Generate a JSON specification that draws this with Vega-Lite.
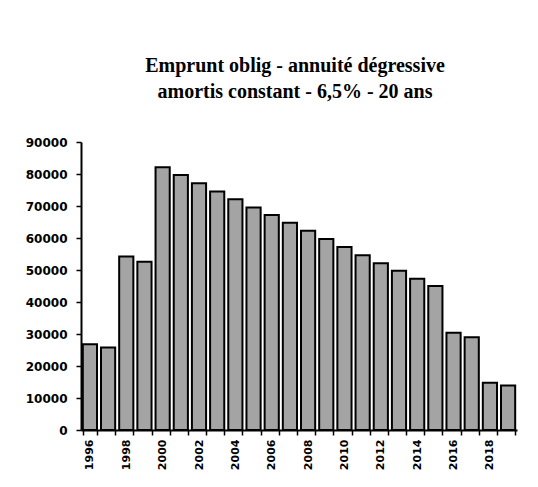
{
  "$schema": "https://vega.github.io/schema/vega-lite/v6.json",
  "width": 436,
  "height": 288,
  "autosize": {"type": "none"},
  "padding": {"left": 81, "top": 142, "right": 21, "bottom": 57},
  "background": "white",
  "title": {
    "text": ["Emprunt oblig - annuité dégressive", "amortis constant - 6,5% - 20 ans"],
    "font": "Liberation Serif",
    "fontSize": 20,
    "fontWeight": "bold",
    "color": "black",
    "lineHeight": 26,
    "anchor": "middle",
    "dx": -4,
    "offset": 34
  },
  "data": {
    "values": [
      {"annee": 1996, "montant": 26800},
      {"annee": 1997, "montant": 25800},
      {"annee": 1998, "montant": 54200},
      {"annee": 1999, "montant": 52600},
      {"annee": 2000, "montant": 82100},
      {"annee": 2001, "montant": 79700},
      {"annee": 2002, "montant": 77100},
      {"annee": 2003, "montant": 74500},
      {"annee": 2004, "montant": 72100},
      {"annee": 2005, "montant": 69500},
      {"annee": 2006, "montant": 67200},
      {"annee": 2007, "montant": 64800},
      {"annee": 2008, "montant": 62300},
      {"annee": 2009, "montant": 59700},
      {"annee": 2010, "montant": 57200},
      {"annee": 2011, "montant": 54600},
      {"annee": 2012, "montant": 52100},
      {"annee": 2013, "montant": 49800},
      {"annee": 2014, "montant": 47300},
      {"annee": 2015, "montant": 45000},
      {"annee": 2016, "montant": 30400},
      {"annee": 2017, "montant": 29000},
      {"annee": 2018, "montant": 14800},
      {"annee": 2019, "montant": 13900}
    ]
  },
  "mark": {"type": "bar", "fill": "#a4a4a4", "stroke": "black", "strokeWidth": 2, "opacity": 1},
  "encoding": {
    "x": {
      "field": "annee",
      "type": "ordinal",
      "scale": {"paddingInner": 0.22, "paddingOuter": 0.1},
      "axis": {
        "title": null,
        "tickBand": "extent",
        "labelExpr": "datum.value % 2 == 0 ? datum.label : ''",
        "labelAngle": -90,
        "labelFont": "DejaVu Sans",
        "labelFontWeight": "bold",
        "labelFontSize": 11,
        "labelColor": "black",
        "labelPadding": 4,
        "tickSize": 5,
        "tickColor": "black",
        "tickWidth": 1.5,
        "domainColor": "black",
        "domainWidth": 2,
        "grid": false
      }
    },
    "y": {
      "field": "montant",
      "type": "quantitative",
      "scale": {"domain": [0, 90000], "nice": false},
      "axis": {
        "title": null,
        "values": [0, 10000, 20000, 30000, 40000, 50000, 60000, 70000, 80000, 90000],
        "format": "d",
        "labelFont": "DejaVu Sans",
        "labelFontWeight": "bold",
        "labelFontSize": 12,
        "labelColor": "black",
        "labelPadding": 9,
        "tickSize": 5,
        "tickColor": "black",
        "tickWidth": 1.5,
        "domainColor": "black",
        "domainWidth": 2,
        "grid": false
      }
    }
  },
  "config": {"view": {"stroke": null}}
}
